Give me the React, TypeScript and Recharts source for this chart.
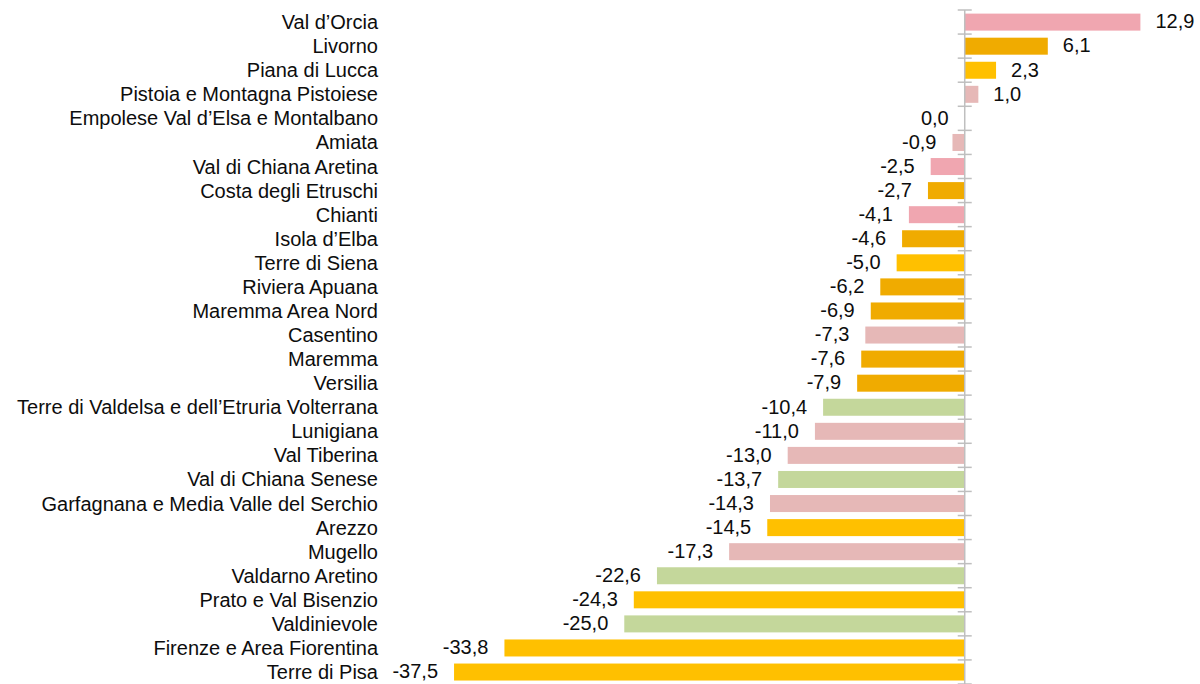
import { BarChart, Bar, XAxis, YAxis, Cell, ReferenceLine } from "recharts";

const categories = [
  "Val d’Orcia",
  "Livorno",
  "Piana di Lucca",
  "Pistoia e Montagna Pistoiese",
  "Empolese Val d’Elsa e Montalbano",
  "Amiata",
  "Val di Chiana Aretina",
  "Costa degli Etruschi",
  "Chianti",
  "Isola d’Elba",
  "Terre di Siena",
  "Riviera Apuana",
  "Maremma Area Nord",
  "Casentino",
  "Maremma",
  "Versilia",
  "Terre di Valdelsa e dell’Etruria Volterrana",
  "Lunigiana",
  "Val Tiberina",
  "Val di Chiana Senese",
  "Garfagnana e Media Valle del Serchio",
  "Arezzo",
  "Mugello",
  "Valdarno Aretino",
  "Prato e Val Bisenzio",
  "Valdinievole",
  "Firenze e Area Fiorentina",
  "Terre di Pisa",
];

const values = [
  12.9, 6.1, 2.3, 1.0, 0.0, -0.9, -2.5, -2.7, -4.1, -4.6, -5.0, -6.2, -6.9, -7.3,
  -7.6, -7.9, -10.4, -11.0, -13.0, -13.7, -14.3, -14.5, -17.3, -22.6, -24.3,
  -25.0, -33.8, -37.5,
];

const groups = [
  "pink", "orange", "yellow", "rose", "rose", "rose", "pink", "orange", "pink",
  "orange", "yellow", "orange", "orange", "rose", "orange", "orange", "green",
  "rose", "rose", "green", "rose", "yellow", "rose", "green", "yellow", "green",
  "yellow", "yellow",
];

const palette: Record<string, string> = {
  pink: "#F0A6B0",
  orange: "#F0AB00",
  yellow: "#FFC000",
  rose: "#E6B8B7",
  green: "#C4D79B",
};

const data = categories.map((name, i) => ({ name, value: values[i], group: groups[i] }));

const FONT = "'Liberation Sans', Arial, sans-serif";
const TEXT = "#0d0d0d";

const fmt = (v: number) => v.toFixed(1).replace(".", ",");

// bar + its value label, so the 0,0 row still gets a label
const BarWithLabel = (props: any) => {
  const { x, y, width, height, fill, payload } = props;
  const v = payload.value;
  const left = Math.min(x, x + width);
  const right = Math.max(x, x + width);
  const w = Math.abs(width);
  const cy = y + height / 2 + 1;
  const pos = v > 0;
  return (
    <g>
      {w > 0 && <rect x={left} y={y} width={w} height={height} fill={fill} />}
      <text
        x={pos ? right + 15 : left - 16}
        y={cy}
        dominantBaseline="middle"
        textAnchor={pos ? "start" : "end"}
        fontSize={20}
        fill={TEXT}
        fontFamily={FONT}
      >
        {fmt(v)}
      </text>
    </g>
  );
};

const AxisWithTicks = (props: any) => {
  const { x1, y1, x2, y2 } = props;
  const n = categories.length;
  const step = (y2 - y1) / n;
  const ticks = Array.from({ length: n + 1 }, (_, k) => y1 + k * step);
  return (
    <g>
      <line x1={x1} y1={y1} x2={x2} y2={y2} stroke="#BFBFBF" strokeWidth={1.5} />
      {ticks.map((ty, k) => (
        <line key={k} x1={x1 - 7} x2={x1 + 7} y1={ty} y2={ty} stroke="#BFBFBF" strokeWidth={1.5} />
      ))}
    </g>
  );
};

export default function App() {
  return (
    <div style={{ position: "absolute", left: 0, top: 0, width: 1200, height: 684, overflow: "hidden", background: "#fff" }}>
      <BarChart
        layout="vertical"
        width={1200}
        height={684}
        data={data}
        margin={{ top: 10, right: 31, bottom: 0, left: 0 }}
        barCategoryGap="15%"
      >
        <XAxis type="number" domain={[-40, 15]} hide />
        <YAxis
          type="category"
          dataKey="name"
          width={420}
          interval={0}
          tickLine={false}
          axisLine={false}
          tickSize={0}
          tickMargin={42}
          tick={{ fontSize: 20, fill: TEXT, fontFamily: FONT }}
        />
        <Bar dataKey="value" isAnimationActive={false} shape={BarWithLabel}>
          {data.map((d, i) => (
            <Cell key={i} fill={palette[d.group]} />
          ))}
        </Bar>
        <ReferenceLine x={0} shape={AxisWithTicks} />
      </BarChart>
    </div>
  );
}
